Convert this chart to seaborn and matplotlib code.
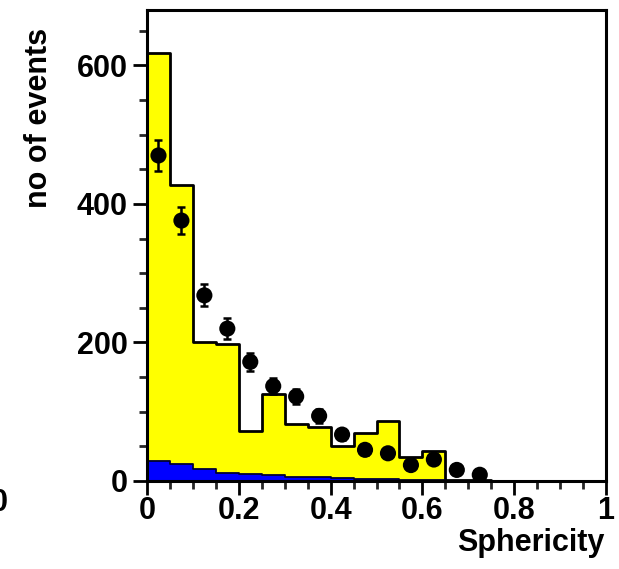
import numpy as np
import pandas as pd
import matplotlib
matplotlib.use("Agg")
import matplotlib.pyplot as plt
from matplotlib.ticker import MultipleLocator, FuncFormatter
import seaborn as sns

# Sphericity bins (width 0.05) from 0 to 0.75
bin_edges = [0.00, 0.05, 0.10, 0.15, 0.20, 0.25, 0.30, 0.35,
             0.40, 0.45, 0.50, 0.55, 0.60, 0.65, 0.70, 0.75]
bin_centers = [0.025, 0.075, 0.125, 0.175, 0.225, 0.275, 0.325, 0.375,
               0.425, 0.475, 0.525, 0.575, 0.625, 0.675, 0.725]

# Simulated total (yellow) and background component (blue)
mc_total = [618, 428, 200, 198, 72, 126, 83, 78, 50, 70, 87, 35, 43, 2, 1]
mc_background = [29, 24.5, 17, 12, 10, 8.5, 6, 6, 4, 3, 3, 2, 2, 0.5, 0.3]

# Measured events with statistical errors
data_counts = [470, 376, 268, 220, 172, 137, 122, 94, 67, 45, 40, 23, 31, 16, 9]
data_errors = [22, 19, 16, 15, 13, 12, 11, 10, 8, 7, 6, 5, 6, 4, 3]

x_ticks = [0, 0.2, 0.4, 0.6, 0.8, 1.0]
x_tick_labels = ["0", "0.2", "0.4", "0.6", "0.8", "1"]
y_ticks = [0, 200, 400, 600]

sns.set_theme(style="white")
plt.rcParams["font.family"] = ["Liberation Sans", "DejaVu Sans"]
plt.rcParams["font.weight"] = "bold"

fig = plt.figure(figsize=(6.19, 5.69), dpi=100)
ax = fig.add_axes([147 / 619, 1 - 481 / 569, 459 / 619, 471 / 569])

df = pd.DataFrame({"x": bin_centers, "total": mc_total,
                   "bkg": mc_background, "data": data_counts,
                   "err": data_errors})

sns.histplot(data=df, x="x", weights="total", bins=bin_edges,
             element="step", fill=True, color="#ffff00", alpha=1,
             edgecolor="black", linewidth=2.0, ax=ax)
sns.histplot(data=df, x="x", weights="bkg", bins=bin_edges,
             element="step", fill=True, color="#0000ff", alpha=1,
             edgecolor="#000033", linewidth=1.3, ax=ax)

ax.errorbar(df["x"], df["data"], yerr=df["err"], fmt="none",
            ecolor="black", elinewidth=1.8, capsize=3, capthick=1.8,
            zorder=4)
sns.scatterplot(data=df, x="x", y="data", s=135, color="black",
                edgecolor="none", zorder=5, ax=ax, legend=False)

ax.set_xlim(0, 1)
ax.set_ylim(0, 680)

ax.set_xticks(x_ticks)
ax.xaxis.set_major_formatter(FuncFormatter(
    lambda v, p: x_tick_labels[x_ticks.index(round(v, 2))]
    if round(v, 2) in x_ticks else ""))
ax.set_yticks(y_ticks)
ax.xaxis.set_minor_locator(MultipleLocator(0.05))
ax.yaxis.set_minor_locator(MultipleLocator(50))

ax.tick_params(axis="both", which="major", direction="out", length=10,
               width=2, labelsize=22, colors="black",
               bottom=True, left=True, top=False, right=False)
ax.tick_params(axis="both", which="minor", direction="out", length=6,
               width=2, bottom=True, left=True, top=False, right=False)
ax.tick_params(axis="x", which="major", pad=1)
ax.tick_params(axis="y", which="major", pad=4)
for lab in ax.get_xticklabels() + ax.get_yticklabels():
    lab.set_fontweight("bold")

for side in ["left", "bottom", "top", "right"]:
    ax.spines[side].set_visible(True)
    ax.spines[side].set_color("black")
    ax.spines[side].set_linewidth(2.2)

ax.set_xlabel("Sphericity", fontsize=22, fontweight="bold", color="black")
ax.xaxis.label.set_ha("right")
ax.xaxis.set_label_coords(457 / 459, (481 - 528) / 471)
ax.set_ylabel("no of events", fontsize=22, fontweight="bold", color="black")
ax.yaxis.set_label_coords((54 - 147) / 459, (481 - 118) / 471)

# Edge of a neighbouring axis label that runs off the left side
fig.text(-1 / 619, 1 - 503 / 569, "0", ha="center", va="center",
         fontsize=22, fontweight="bold", color="black")

fig.savefig("out.png", dpi=100)
